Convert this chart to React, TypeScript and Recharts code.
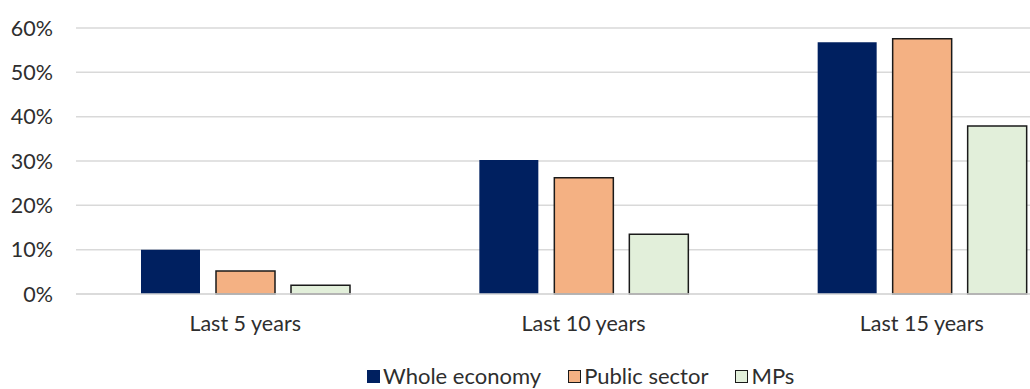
import React from 'react';
import { BarChart, Bar, XAxis, YAxis, CartesianGrid, Legend } from 'recharts';

const categories = ['Last 5 years', 'Last 10 years', 'Last 15 years'];
const wholeEconomy = [10, 30.2, 56.8];
const publicSector = [5.2, 26.2, 57.6];
const mps = [2, 13.5, 37.9];
const yTicks = [0, 10, 20, 30, 40, 50, 60];

const series = [
    { key: 'whole', name: 'Whole economy', fill: '#002060', stroke: 'none' },
    { key: 'public', name: 'Public sector', fill: '#F4B183', stroke: '#1a1a1a' },
    { key: 'mps', name: 'MPs', fill: '#E2EFDA', stroke: '#1a1a1a' },
];

const data = categories.map((c, i) => ({
    name: c,
    whole: wholeEconomy[i],
    public: publicSector[i],
    mps: mps[i],
}));

const FONT = 'Lato, "Liberation Sans", sans-serif';
const TEXT = '#2e2e2e';

const CustomLegend = () => (
    <div style={{ display: 'flex', alignItems: 'center', fontFamily: FONT, fontSize: 22, color: TEXT, lineHeight: '20px' }}>
        {series.map((s) => (
            <div key={s.key} style={{ display: 'flex', alignItems: 'center', marginRight: 27 }}>
                <span
                    style={{
                        display: 'inline-block',
                        width: s.stroke === 'none' ? 13 : 11,
                        height: s.stroke === 'none' ? 13 : 11,
                        background: s.fill,
                        border: s.stroke === 'none' ? 'none' : '1px solid #1a1a1a',
                        marginRight: 3,
                    }}
                />
                <span>{s.name}</span>
            </div>
        ))}
    </div>
);

const App = () => {
    return (
        <div style={{ position: 'absolute', left: 0, top: 0, width: 1030, height: 389, overflow: 'hidden', background: '#fff' }}>
            <BarChart
                width={1100}
                height={389}
                data={data}
                margin={{ top: 28, right: 9, left: 0, bottom: 0 }}
                barCategoryGap={65}
                barGap={16}
            >
                <CartesianGrid vertical={false} stroke="#d9d9d9" strokeWidth={1.5} />
                <XAxis
                    dataKey="name"
                    axisLine={{ stroke: '#d9d9d9', strokeWidth: 1.5 }}
                    tickLine={false}
                    tickSize={0}
                    tickMargin={22}
                    height={75}
                    tick={{ fill: TEXT, fontSize: 21.5, fontFamily: FONT }}
                />
                <YAxis
                    width={76}
                    domain={[0, 60]}
                    ticks={yTicks}
                    tickFormatter={(v: number) => `${v}%`}
                    axisLine={false}
                    tickLine={false}
                    tickSize={0}
                    tickMargin={23}
                    tick={{ fill: TEXT, fontSize: 21.5, fontFamily: FONT }}
                />
                <Legend
                    content={<CustomLegend />}
                    wrapperStyle={{ top: 366, left: 367, width: 'auto', height: 20 }}
                />
                {series.map((s) => (
                    <Bar
                        key={s.key}
                        dataKey={s.key}
                        name={s.name}
                        fill={s.fill}
                        stroke={s.stroke}
                        strokeWidth={1.5}
                        isAnimationActive={false}
                    />
                ))}
            </BarChart>
        </div>
    );
};

export default App;
